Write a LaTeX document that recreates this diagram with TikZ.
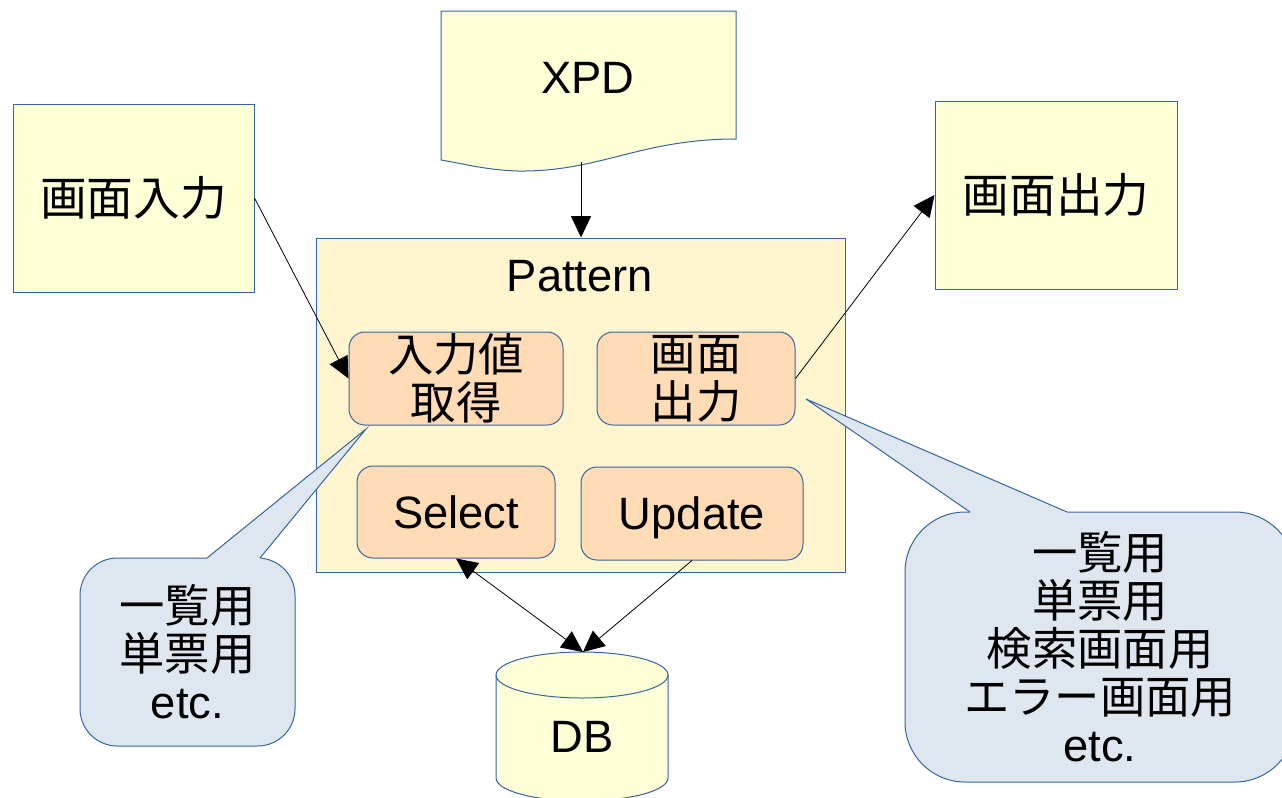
\documentclass[tikz,border=0pt]{standalone}
\usepackage{fontspec}
\setmainfont{Liberation Sans}
\newfontfamily\jp{Noto Sans CJK JP}
\usetikzlibrary{arrows.meta}
\definecolor{paleyellow}{HTML}{FFFFD7}
\definecolor{patfill}{HTML}{FFF5CE}
\definecolor{peach}{HTML}{FFDBB6}
\definecolor{callfill}{HTML}{DEE6EF}
\definecolor{edgeblue}{HTML}{3465A4}

\tikzset{
  txt/.style={font=\fontsize{34}{36}\selectfont, inner sep=0pt, align=center},
  plain/.style={txt, draw=edgeblue, line width=0.75pt},
  io/.style={plain, fill=paleyellow},
  part/.style={plain, fill=peach, rounded corners=12pt},
  callout/.style={plain, fill=callfill},
  flow/.style={-{Triangle[length=16pt,width=15pt]}, line width=0.6pt},
}

\begin{document}
\begin{tikzpicture}[x=0.75pt, y=-0.75pt]
  \useasboundingbox (0,0) rectangle (1282,797);
  % screen input / output boxes
  \node[io, font=\fontsize{35}{36}\selectfont, minimum width=180.75pt, minimum height=141pt] (ginput) at (133.5,198) {\jp 画面入力};
  \node[io, font=\fontsize{35}{36}\selectfont, minimum width=181.5pt, minimum height=141pt] (goutput) at (1056,195) {\jp 画面出力};
  % XPD document with wavy bottom
  \draw[edgeblue, line width=0.75pt, fill=paleyellow] (441,11) -- (736,11) -- (736,139)
    .. controls (640,139) and (600,172) .. (518,171)
    .. controls (485,170) and (460,163) .. (441,160) -- cycle;
  \node[txt] (xpd) at (588,78) {XPD};
  \coordinate (xpdout) at (581,162);
  % pattern frame and its parts
  \node[plain, fill=patfill, minimum width=396.75pt, minimum height=250.5pt] (pattern) at (580.5,405) {};
  \node[txt] (pattitle) at (580,276) {Pattern};
  \node[part, minimum width=160.5pt, minimum height=69.75pt] (inval) at (456,378.5) {\jp 入力値\\\jp 取得};
  \node[part, minimum width=148.5pt, minimum height=69.75pt] (gout) at (696,378.5) {\jp 画面\\\jp 出力};
  \node[part, minimum width=148.5pt, minimum height=69pt] (select) at (456,512) {Select};
  \node[part, text depth=0pt, minimum width=166.5pt, minimum height=69.75pt] (update) at (692,513.5) {Update};
  % database cylinder
  \draw[edgeblue, line width=0.75pt, fill=paleyellow] (496,675) -- (496,778)
    arc[start angle=180, end angle=0, x radius=86, y radius=23] -- (668,675)
    arc[start angle=0, end angle=-180, x radius=86, y radius=23] -- cycle;
  \draw[edgeblue, line width=0.75pt] (496,675) arc[start angle=180, end angle=0, x radius=86, y radius=23];
  \node[txt] (db) at (582,737) {DB};
  \coordinate (dbtop) at (583,652);
  % connectors
  \draw[flow] (xpdout) -- (xpdout |- pattern.north);
  \draw[flow] (ginput.east) -- (inval.west);
  \draw[flow] (gout.east) -- (goutput.west);
  \draw[flow, {Triangle[length=16pt,width=15pt]}-{Triangle[length=16pt,width=15pt]}] (select.south) -- (dbtop);
  \draw[flow] (update.south) -- (dbtop);
  % callouts
  \node[callout, rounded corners=28pt, minimum width=161.25pt, minimum height=141pt] (leftnote) at (187.5,652)
    {{\jp 一覧用}\\{\jp 単票用}\\etc.};
  \fill[callfill] (207,560) -- (207,558) -- (366,429) -- (260,558) -- (260,560) -- cycle;
  \draw[edgeblue, line width=0.75pt] (207,558) -- (366,429) -- (260,558);
  \node[callout, rounded corners=45pt, minimum width=292.5pt, minimum height=202.5pt] (rightnote) at (1100,647)
    {{\jp 一覧用}\\{\jp 単票用}\\{\jp 検索画面用}\\{\jp エラー画面用}\\etc.};
  \fill[callfill] (970,514) -- (970,512) -- (806,399) -- (1067,512) -- (1067,514) -- cycle;
  \draw[edgeblue, line width=0.75pt] (970,512) -- (806,399) -- (1067,512);
\end{tikzpicture}
\end{document}
